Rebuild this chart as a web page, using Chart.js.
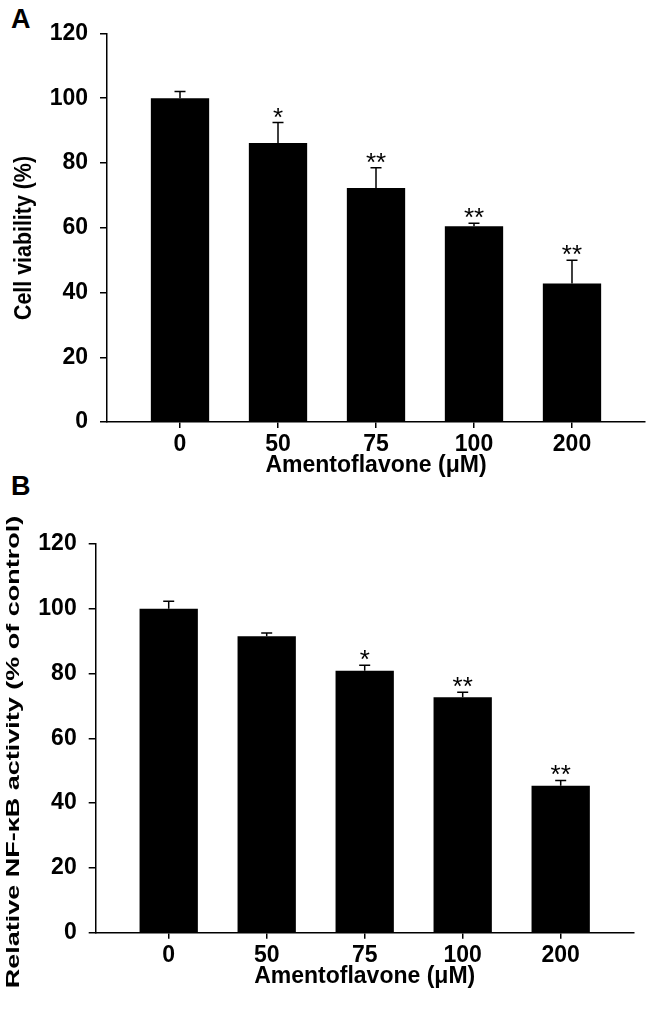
<!DOCTYPE html>
<html lang="en">
<head>
  <meta charset="utf-8" />
  <title>Amentoflavone: cell viability and NF-κB activity</title>
  <script src="https://cdn.jsdelivr.net/npm/chart.js"></script>
  <style>
    * { box-sizing: border-box; margin: 0; padding: 0; }
    body {
      background: #fff;
      width: 646px;
      height: 1009px;
      position: relative;
      overflow: hidden;
      font-family: "Liberation Sans", Arial, sans-serif;
    }
    .panel-letter {
      position: absolute;
      left: 11px;
      font-size: 27px;
      font-weight: bold;
      line-height: 1;
      color: #000;
    }
    canvas { position: absolute; left: 0; }
    #chartA { top: 0; }
    #chartB { top: 490px; }
  </style>
</head>
<body>
  <div class="panel-letter" style="top:6px">A</div>
  <div class="panel-letter" style="top:473px">B</div>
  <canvas id="chartA" width="646" height="490"></canvas>
  <canvas id="chartB" width="646" height="519"></canvas>

  <script>
    // values (mean, upper SD)
    const doses = ['0', '50', '75', '100', '200'];
    const yTicks = [0, 20, 40, 60, 80, 100, 120];

    const viability = [100, 86.2, 72.3, 60.5, 42.8];
    const viabilityErr = [2.1, 6.3, 6.2, 0.9, 7.2];
    const viabilityStars = ['', '*', '**', '**', '**'];

    const nfkb = [100, 91.5, 80.9, 72.7, 45.4];
    const nfkbErr = [2.3, 1.0, 1.7, 1.5, 1.6];
    const nfkbStars = ['', '', '*', '**', '**'];

    const FONT = '"Liberation Sans", Arial, sans-serif';
    Chart.defaults.font.family = FONT;
    Chart.defaults.color = '#000';

    // error bars, asterisks and axis titles
    const decor = {
      id: 'decor',
      afterDatasetsDraw(chart) {
        const ctx = chart.ctx;
        const ds = chart.data.datasets[0];
        const meta = chart.getDatasetMeta(0);
        const y = chart.scales.y;
        ctx.save();
        ctx.strokeStyle = '#000';
        ctx.fillStyle = '#000';
        ctx.lineWidth = 1.5;
        ctx.font = '26px ' + FONT;
        ctx.textAlign = 'center';
        ctx.textBaseline = 'alphabetic';
        meta.data.forEach((bar, i) => {
          const top = y.getPixelForValue(ds.data[i].y + ds.errors[i]);
          ctx.beginPath();
          ctx.moveTo(bar.x, bar.y);
          ctx.lineTo(bar.x, top);
          ctx.moveTo(bar.x - 5.5, top);
          ctx.lineTo(bar.x + 5.5, top);
          ctx.stroke();
          if (ds.stars[i]) ctx.fillText(ds.stars[i], bar.x, top + 3);
        });
        ctx.restore();
      },
      afterDraw(chart, args, o) {
        const ctx = chart.ctx;
        const area = chart.chartArea;
        ctx.save();
        ctx.fillStyle = '#000';
        ctx.textAlign = 'center';
        ctx.textBaseline = 'middle';
        ctx.font = 'bold 23px ' + FONT;
        ctx.fillText(o.xTitle, (area.left + area.right) / 2, area.bottom + o.xTitleGap);

        ctx.translate(o.yTitleX, o.yTitleY);
        ctx.rotate(-Math.PI / 2);
        ctx.scale(o.yTitleStretch, 1);
        ctx.font = 'bold ' + o.yTitleSize + 'px ' + FONT;
        ctx.fillText(o.yTitle, 0, 0);
        ctx.restore();
      }
    };

    function makeChart(id, values, errors, stars, box, titles) {
      return new Chart(id, {
        type: 'bar',
        data: {
          datasets: [{
            data: values.map((v, i) => ({ x: i, y: v })),
            errors: errors,
            stars: stars,
            backgroundColor: '#000',
            borderWidth: 0,
            categoryPercentage: 1,
            barPercentage: 0.595
          }]
        },
        options: {
          responsive: false,
          animation: false,
          devicePixelRatio: 1,
          layout: { padding: { top: box.top, right: box.right, left: 0, bottom: 0 } },
          plugins: {
            legend: { display: false },
            tooltip: { enabled: false },
            decor: titles
          },
          scales: {
            x: {
              type: 'linear',
              offset: false,
              min: -0.745,
              max: doses.length - 1 + 0.745,
              afterBuildTicks: s => { s.ticks = doses.map((_, i) => ({ value: i })); },
              afterFit: s => { s.height = box.xHeight; },
              border: { display: true, color: '#000', width: 1.5 },
              grid: { offset: false, drawOnChartArea: false, drawTicks: true, tickLength: 6, color: '#000', lineWidth: 1.5 },
              ticks: {
                padding: 3,
                maxRotation: 0,
                autoSkip: false,
                font: { size: 23, weight: 'bold' },
                callback: v => doses[v]
              }
            },
            y: {
              min: 0,
              max: 120,
              afterBuildTicks: s => { s.ticks = yTicks.map(v => ({ value: v })); },
              afterFit: s => { s.width = box.yWidth; },
              border: { display: true, color: '#000', width: 1.5 },
              grid: { drawOnChartArea: false, drawTicks: true, tickLength: 7, color: '#000', lineWidth: 1.5 },
              ticks: {
                padding: 12,
                font: { size: 23, weight: 'bold' }
              }
            }
          }
        },
        plugins: [decor]
      });
    }

    makeChart('chartA', viability, viabilityErr, viabilityStars,
      { top: 33.5, right: 1, yWidth: 107, xHeight: 68 },
      {
        xTitle: 'Amentoflavone (μM)', xTitleGap: 44,
        yTitle: 'Cell viability (%)', yTitleX: 25, yTitleY: 238, yTitleSize: 23, yTitleStretch: 0.93
      });

    makeChart('chartB', nfkb, nfkbErr, nfkbStars,
      { top: 54, right: 12.3, yWidth: 95.7, xHeight: 76.3 },
      {
        xTitle: 'Amentoflavone (μM)', xTitleGap: 43.5,
        yTitle: 'Relative NF-κB activity (% of control)', yTitleX: 14.5, yTitleY: 262, yTitleSize: 18, yTitleStretch: 1.5
      });
  </script>
</body>
</html>
